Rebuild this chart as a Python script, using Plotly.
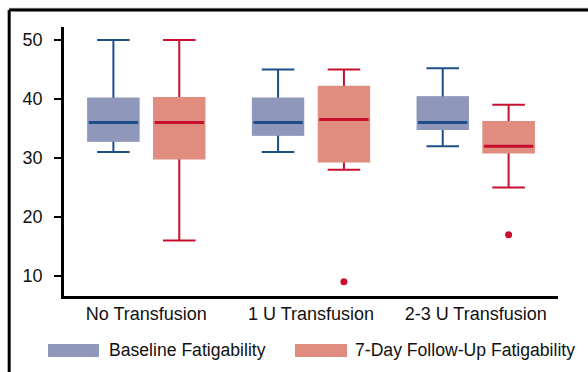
import plotly.graph_objects as go

categories = ["No Transfusion", "1 U Transfusion", "2-3 U Transfusion"]

# Baseline fatigability box statistics
base_low = [31, 31, 32]
base_q1 = [33, 34, 35]
base_med = [36, 36, 36]
base_q3 = [40, 40, 40.2]
base_high = [50, 45, 45.2]

# 7-day follow-up fatigability box statistics
fu_low = [16, 28, 25]
fu_q1 = [30, 29.5, 31]
fu_med = [36, 36.5, 32]
fu_q3 = [40.1, 42, 36]
fu_high = [50, 45, 39]

# outlier points (follow-up only)
fu_outlier_cats = ["1 U Transfusion", "2-3 U Transfusion"]
fu_outlier_vals = [9, 17]

series_names = ["Baseline Fatigability", "7-Day Follow-Up Fatigability"]

BLUE_LINE = "#1c4f88"
BLUE_FILL = "#8f98bb"
RED_LINE = "#c8102e"
RED_FILL = "#e08d7f"
FONT = "Liberation Sans, Arial, sans-serif"
FS = 18
LEG_FS = 17.6

fig = go.Figure()


def add_series(name, group, low, q1, med, q3, high, line_c, fill_c):
    # full box: whiskers and caps
    fig.add_trace(go.Box(
        name=name, x=categories, q1=q1, median=med, q3=q3,
        lowerfence=low, upperfence=high, offsetgroup=group,
        boxpoints=False,
        line=dict(color=line_c, width=2), fillcolor=fill_c,
        whiskerwidth=0.66, showlegend=False, hoverinfo="skip",
    ))
    # cover outline of box body with fill colour
    fig.add_trace(go.Box(
        name=name, x=categories, q1=q1, median=q3, q3=q3,
        lowerfence=q1, upperfence=q3, offsetgroup=group,
        boxpoints=False, line=dict(color=fill_c, width=3), fillcolor=fill_c,
        whiskerwidth=0, showlegend=False, hoverinfo="skip",
    ))
    # median line
    fig.add_trace(go.Box(
        name=name, x=categories, q1=med, median=med, q3=med,
        lowerfence=med, upperfence=med, offsetgroup=group,
        boxpoints=False, line=dict(color=line_c, width=3),
        fillcolor="rgba(0,0,0,0)", whiskerwidth=0, showlegend=False,
        hoverinfo="skip",
    ))


add_series(series_names[0], "base", base_low, base_q1, base_med, base_q3,
           base_high, BLUE_LINE, BLUE_FILL)
add_series(series_names[1], "fu", fu_low, fu_q1, fu_med, fu_q3,
           fu_high, RED_LINE, RED_FILL)

# outliers drawn as points of an invisible box in the follow-up group
fig.add_trace(go.Box(
    name=series_names[1], x=fu_outlier_cats, y=fu_outlier_vals, offsetgroup="fu",
    boxpoints="all", pointpos=0, jitter=0,
    marker=dict(color=RED_LINE, size=7),
    line=dict(color="rgba(0,0,0,0)", width=0), fillcolor="rgba(0,0,0,0)",
    whiskerwidth=0, showlegend=False, hoverinfo="skip",
))

shapes = [
    # outer frame (left and top)
    dict(type="line", xref="paper", yref="paper", x0=-0.111, x1=1.1, y0=1.068, y1=1.068,
         line=dict(color="#bbbbbb", width=2)),
    dict(type="line", xref="paper", yref="paper", x0=-0.111, x1=1.1, y0=1.063, y1=1.063,
         line=dict(color="black", width=3)),
    dict(type="line", xref="paper", yref="paper", x0=-0.111, x1=-0.111, y0=1.063, y1=-0.3,
         line=dict(color="black", width=3)),
    # manual legend swatches
    dict(type="rect", xref="paper", yref="paper", x0=-0.0324, x1=0.0709, y0=-0.227, y1=-0.178,
         fillcolor=BLUE_FILL, line=dict(width=0)),
    dict(type="rect", xref="paper", yref="paper", x0=0.4676, x1=0.5729, y0=-0.227, y1=-0.178,
         fillcolor=RED_FILL, line=dict(width=0)),
]

annotations = [
    dict(text=series_names[0], xref="paper", yref="paper", x=0.087, y=-0.2026,
         xanchor="left", yanchor="middle", showarrow=False,
         font=dict(family=FONT, size=LEG_FS, color="#111")),
    dict(text=series_names[1], xref="paper", yref="paper", x=0.585, y=-0.2026,
         xanchor="left", yanchor="middle", showarrow=False,
         font=dict(family=FONT, size=LEG_FS, color="#111")),
]

fig.update_layout(
    width=588, height=372,
    margin=dict(l=64, r=30, t=27, b=76),
    paper_bgcolor="white", plot_bgcolor="white",
    boxmode="group", boxgap=0.2, boxgroupgap=0.25,
    showlegend=False,
    font=dict(family=FONT, size=FS, color="#111"),
    shapes=shapes, annotations=annotations,
    xaxis=dict(
        type="category", range=[-0.5, 2.5], showgrid=False, zeroline=False,
        showline=True, linecolor="black", linewidth=2.5, ticks="",
        tickfont=dict(family=FONT, size=FS, color="#111"),
    ),
    yaxis=dict(
        range=[6.6, 52.2], tickvals=[10, 20, 30, 40, 50], showgrid=False,
        zeroline=False, showline=True, linecolor="black", linewidth=2.5,
        ticks="outside", ticklen=7, tickwidth=2, tickcolor="black",
        ticklabelstandoff=8,
        tickfont=dict(family=FONT, size=FS, color="#111"),
    ),
)

fig.write_html("out.html", config={"displayModeBar": False},
               post_script="document.body.style.margin='0';")
